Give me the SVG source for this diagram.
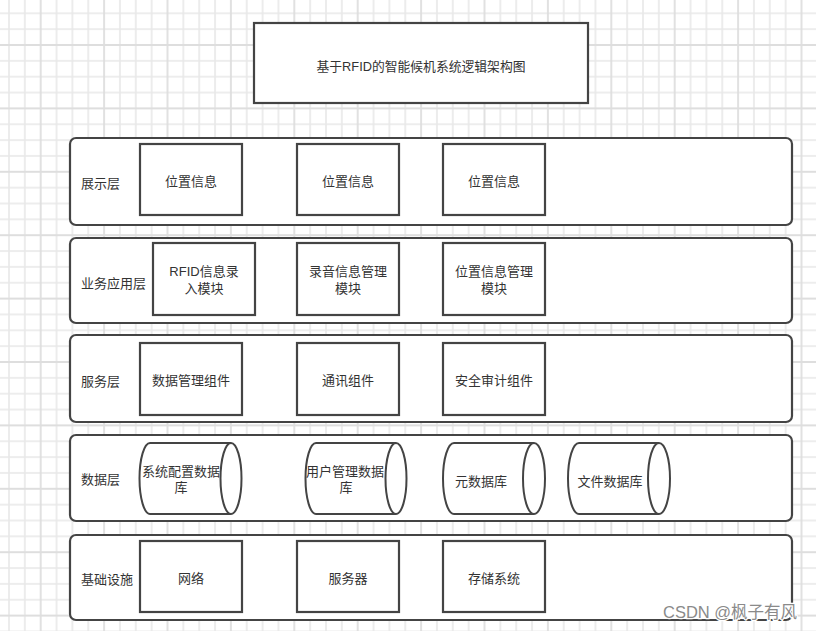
<svg xmlns="http://www.w3.org/2000/svg" width="816" height="631" viewBox="0 0 816 631">
  <defs>
    <pattern id="grid" patternUnits="userSpaceOnUse" x="32.775" y="37.075" width="63.4" height="63.4">
      <rect x="0" y="0" width="63.4" height="63.4" fill="#ffffff"/>
      <g stroke="#e8e8e8" stroke-width="1.6">
        <line x1="23.775" y1="0" x2="23.775" y2="63.4"/>
        <line x1="39.625" y1="0" x2="39.625" y2="63.4"/>
        <line x1="55.475" y1="0" x2="55.475" y2="63.4"/>
        <line x1="0" y1="23.775" x2="63.4" y2="23.775"/>
        <line x1="0" y1="39.625" x2="63.4" y2="39.625"/>
        <line x1="0" y1="55.475" x2="63.4" y2="55.475"/>
      </g>
      <g stroke="#dedede" stroke-width="1.8">
        <line x1="7.925" y1="0" x2="7.925" y2="63.4"/>
        <line x1="0" y1="7.925" x2="63.4" y2="7.925"/>
      </g>
    </pattern>
  </defs>
  <style>
    .box { fill: #ffffff; stroke: #444444; stroke-width: 2.2; }
    .layer { fill: #ffffff; stroke: #444444; stroke-width: 2.2; }
    .cyl { fill: #ffffff; stroke: #444444; stroke-width: 2; }
    .t { font-family: "Liberation Sans", "Noto Sans CJK SC", sans-serif; font-size: 13px; fill: #333333; dominant-baseline: central; }
    .c { text-anchor: middle; }
    .title { font-size: 12.8px; }
    .wm { font-family: "Liberation Sans", "Noto Sans CJK SC", sans-serif; font-size: 16.5px; fill: #8a8a8a; stroke: #ffffff; stroke-width: 2.5; paint-order: stroke; }
  </style>

  <rect x="0" y="0" width="816" height="631" fill="url(#grid)"/>

  <g id="title">
    <rect class="box" x="254" y="23" width="334" height="80"/>
    <text class="t c title" x="421" y="66">基于RFID的智能候机系统逻辑架构图</text>
  </g>

  <!-- Layer 1: 展示层 -->
  <g id="layer-presentation">
    <rect class="layer" x="70" y="138" width="722" height="87" rx="6"/>
    <text class="t" x="81" y="183">展示层</text>
  </g>
  <g id="p1">
    <rect class="box" x="140" y="144" width="102" height="71"/>
    <text class="t c" x="191" y="181">位置信息</text>
  </g>
  <g id="p2">
    <rect class="box" x="297" y="144" width="102" height="71"/>
    <text class="t c" x="348" y="181">位置信息</text>
  </g>
  <g id="p3">
    <rect class="box" x="443" y="144" width="102" height="71"/>
    <text class="t c" x="494" y="181">位置信息</text>
  </g>

  <!-- Layer 2: 业务应用层 -->
  <g id="layer-business">
    <rect class="layer" x="70" y="238" width="722" height="85" rx="6"/>
    <text class="t" x="81" y="283">业务应用层</text>
  </g>
  <g id="b1">
    <rect class="box" x="153" y="243" width="102" height="72"/>
    <text class="t c" x="204" y="271">RFID信息录</text>
    <text class="t c" x="204" y="288">入模块</text>
  </g>
  <g id="b2">
    <rect class="box" x="297" y="243" width="102" height="72"/>
    <text class="t c" x="348" y="271">录音信息管理</text>
    <text class="t c" x="348" y="288">模块</text>
  </g>
  <g id="b3">
    <rect class="box" x="443" y="243" width="102" height="72"/>
    <text class="t c" x="494" y="271">位置信息管理</text>
    <text class="t c" x="494" y="288">模块</text>
  </g>

  <!-- Layer 3: 服务层 -->
  <g id="layer-service">
    <rect class="layer" x="70" y="335" width="722" height="87" rx="6"/>
    <text class="t" x="81" y="381">服务层</text>
  </g>
  <g id="s1">
    <rect class="box" x="140" y="343" width="102" height="72"/>
    <text class="t c" x="191" y="380">数据管理组件</text>
  </g>
  <g id="s2">
    <rect class="box" x="297" y="343" width="102" height="72"/>
    <text class="t c" x="348" y="380">通讯组件</text>
  </g>
  <g id="s3">
    <rect class="box" x="443" y="343" width="102" height="72"/>
    <text class="t c" x="494" y="380">安全审计组件</text>
  </g>

  <!-- Layer 4: 数据层 -->
  <g id="layer-data">
    <rect class="layer" x="70" y="435" width="722" height="86" rx="6"/>
    <text class="t" x="81" y="479">数据层</text>
  </g>
  <g id="d1">
    <path class="cyl" d="M150,443 L231,443 A10.5,35.5 0 0 1 231,514 L150,514 A10.5,35.5 0 0 1 150,443 Z M231,443 A10.5,35.5 0 0 0 231,514"/>
    <text class="t c" x="181" y="471">系统配置数据</text>
    <text class="t c" x="181" y="487">库</text>
  </g>
  <g id="d2">
    <path class="cyl" d="M316,443 L396,443 A10.5,35.5 0 0 1 396,514 L316,514 A10.5,35.5 0 0 1 316,443 Z M396,443 A10.5,35.5 0 0 0 396,514"/>
    <text class="t c" x="345" y="471">用户管理数据</text>
    <text class="t c" x="346" y="487">库</text>
  </g>
  <g id="d3">
    <path class="cyl" d="M454,443 L534,443 A11,35.5 0 0 1 534,514 L454,514 A11,35.5 0 0 1 454,443 Z M534,443 A11,35.5 0 0 0 534,514"/>
    <text class="t c" x="481" y="481">元数据库</text>
  </g>
  <g id="d4">
    <path class="cyl" d="M579,443 L659,443 A11,35.5 0 0 1 659,514 L579,514 A11,35.5 0 0 1 579,443 Z M659,443 A11,35.5 0 0 0 659,514"/>
    <text class="t c" x="610" y="481">文件数据库</text>
  </g>

  <!-- Layer 5: 基础设施 -->
  <g id="layer-infra">
    <rect class="layer" x="70" y="535" width="722" height="85" rx="6"/>
    <text class="t" x="81" y="579">基础设施</text>
  </g>
  <g id="i1">
    <rect class="box" x="140" y="541" width="102" height="71"/>
    <text class="t c" x="191" y="578">网络</text>
  </g>
  <g id="i2">
    <rect class="box" x="297" y="541" width="102" height="71"/>
    <text class="t c" x="348" y="578">服务器</text>
  </g>
  <g id="i3">
    <rect class="box" x="443" y="541" width="102" height="71"/>
    <text class="t c" x="494" y="578">存储系统</text>
  </g>

  <g id="connectors"/>

  <text class="wm" x="663" y="618">CSDN @枫子有风</text>
</svg>
